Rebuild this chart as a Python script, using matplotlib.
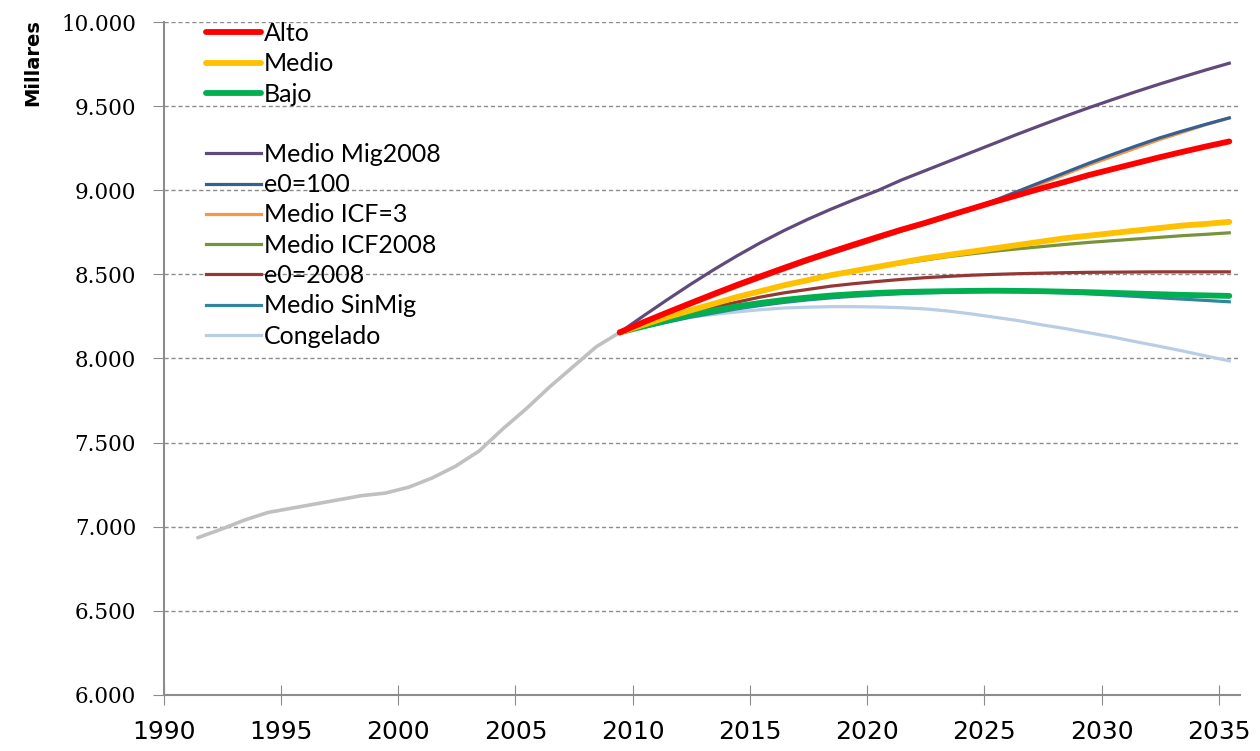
import matplotlib.pyplot as plt
from matplotlib.lines import Line2D
import numpy as np

# serie histórica (miles de habitantes)
hist_years = np.arange(1991, 2010)
hist_vals = [6935, 6985, 7040, 7085, 7110, 7135, 7160, 7185, 7200, 7235,
             7290, 7360, 7450, 7580, 7700, 7830, 7950, 8070, 8155]

# proyecciones 2009-2035
proj_years = np.arange(2009, 2036)
alto = [8155, 8215, 8272, 8328, 8383, 8437, 8488, 8538, 8587, 8633, 8678, 8722,
        8765, 8805, 8848, 8890, 8932, 8972, 9012, 9050, 9090, 9125, 9160, 9195,
        9228, 9260, 9290]
medio = [8155, 8200, 8245, 8285, 8325, 8365, 8400, 8435, 8465, 8495, 8520, 8545,
         8570, 8595, 8615, 8635, 8655, 8675, 8695, 8715, 8730, 8745, 8760, 8775,
         8790, 8800, 8812]
bajo = [8155, 8190, 8225, 8260, 8285, 8310, 8330, 8348, 8362, 8374, 8383, 8390,
        8395, 8398, 8400, 8402, 8403, 8402, 8400, 8397, 8394, 8390, 8386, 8382,
        8378, 8375, 8372]
mig2008 = [8155, 8252, 8347, 8439, 8527, 8610, 8688, 8760, 8826, 8887, 8944, 8998,
           9060, 9115, 9170, 9225, 9280, 9335, 9388, 9440, 9490, 9538, 9585, 9630,
           9673, 9715, 9755]
e0_100 = [8155, 8210, 8265, 8320, 8375, 8428, 8478, 8528, 8578, 8623, 8668, 8713,
          8758, 8800, 8845, 8892, 8940, 8995, 9050, 9105, 9160, 9212, 9262, 9310,
          9352, 9392, 9430]
icf3 = [8155, 8208, 8262, 8316, 8370, 8424, 8475, 8525, 8575, 8620, 8665, 8710,
        8755, 8797, 8840, 8885, 8932, 8985, 9040, 9095, 9150, 9200, 9250, 9300,
        9345, 9390, 9430]
icf2008 = [8155, 8200, 8245, 8285, 8325, 8365, 8400, 8435, 8465, 8495, 8520, 8543,
           8565, 8585, 8605, 8622, 8638, 8652, 8665, 8678, 8690, 8700, 8710, 8720,
           8730, 8738, 8747]
e0_2008 = [8155, 8195, 8235, 8270, 8305, 8335, 8365, 8390, 8410, 8430, 8445, 8458,
           8470, 8480, 8488, 8495, 8500, 8504, 8507, 8510, 8512, 8513, 8514, 8515,
           8515, 8515, 8515]
sinmig = [8155, 8185, 8215, 8245, 8270, 8295, 8315, 8333, 8348, 8360, 8370, 8378,
          8385, 8390, 8394, 8397, 8398, 8397, 8394, 8390, 8384, 8377, 8369, 8361,
          8353, 8345, 8337]
congelado = [8155, 8190, 8220, 8245, 8262, 8277, 8290, 8300, 8305, 8308, 8308, 8306,
             8302, 8295, 8282, 8265, 8245, 8225, 8200, 8178, 8153, 8128, 8100, 8073,
             8045, 8015, 7986]

xtick_years = list(range(1990, 2040, 5))
ytick_vals = list(range(6000, 10001, 500))

# los datos se sitúan a mitad de año
hx = hist_years + 0.45
px = proj_years + 0.45

fig = plt.figure(figsize=(12.6, 7.51), dpi=100)
ax = fig.add_axes([0.130, 0.0746, 0.854, 0.8961])

ax.plot(hx, hist_vals, color='#c0c0c0', lw=2.6, solid_capstyle='round', zorder=3)

thin = 2.3
thick = 4.2
l_cong, = ax.plot(px, congelado, color='#b9cde5', lw=thin, zorder=3)
l_sin, = ax.plot(px, sinmig, color='#31859c', lw=thin, zorder=3)
l_e08, = ax.plot(px, e0_2008, color='#953735', lw=thin, zorder=3)
l_i08, = ax.plot(px, icf2008, color='#77933c', lw=thin, zorder=3)
l_i3, = ax.plot(px, icf3, color='#f79646', lw=thin, zorder=3)
l_e100, = ax.plot(px, e0_100, color='#376092', lw=thin, zorder=3)
l_mig, = ax.plot(px, mig2008, color='#604a7b', lw=thin, zorder=3)
l_bajo, = ax.plot(px, bajo, color='#00b050', lw=thick, solid_capstyle='round', zorder=4)
l_medio, = ax.plot(px, medio, color='#ffc000', lw=thick, solid_capstyle='round', zorder=4)
l_alto, = ax.plot(px, alto, color='#ff0000', lw=thick, solid_capstyle='round', zorder=4)

ax.set_xlim(1990, 2035.9)
ax.set_ylim(6000, 10000)
ax.set_xticks(xtick_years)
ax.set_xticklabels([str(y) for y in xtick_years], fontsize=18, family='DejaVu Sans')
ax.set_yticks(ytick_vals)
ax.set_yticklabels([f'{v:,}'.replace(',', '.') for v in ytick_vals],
                   fontsize=15.5, family='DejaVu Serif')

ax.yaxis.grid(True, linestyle=(0, (3, 2)), color='#8c8c8c', lw=1)
ax.set_axisbelow(True)
for s in ['top', 'right']:
    ax.spines[s].set_visible(False)
for s in ['left', 'bottom']:
    ax.spines[s].set_color('#8c8c8c')
    ax.spines[s].set_linewidth(1.5)
ax.tick_params(axis='y', direction='out', length=8, color='#8c8c8c', pad=12)
ax.tick_params(axis='x', direction='inout', length=14, color='#8c8c8c', pad=11)

fig.text(33 / 1260, 1 - 63 / 751, 'Millares', rotation=90, ha='center', va='center',
         fontsize=14, fontweight='bold', family='DejaVu Sans')

blank = Line2D([], [], color='none')
handles = [l_alto, l_medio, l_bajo, blank, l_mig, l_e100, l_i3, l_i08, l_e08, l_sin, l_cong]
labels = ['Alto', 'Medio', 'Bajo', ' ', 'Medio Mig2008', 'e0=100', 'Medio ICF=3',
          'Medio ICF2008', 'e0=2008', 'Medio SinMig', 'Congelado']
ax.legend(handles, labels, loc='upper left', bbox_to_anchor=(206 / 1260, 1 - 22 / 751),
          bbox_transform=fig.transFigure, frameon=False, prop={'family': 'Lato', 'size': 18},
          handlelength=2.2, handletextpad=0.12, labelspacing=0.29, borderpad=0,
          borderaxespad=0)

plt.savefig('out.png', dpi=100)
